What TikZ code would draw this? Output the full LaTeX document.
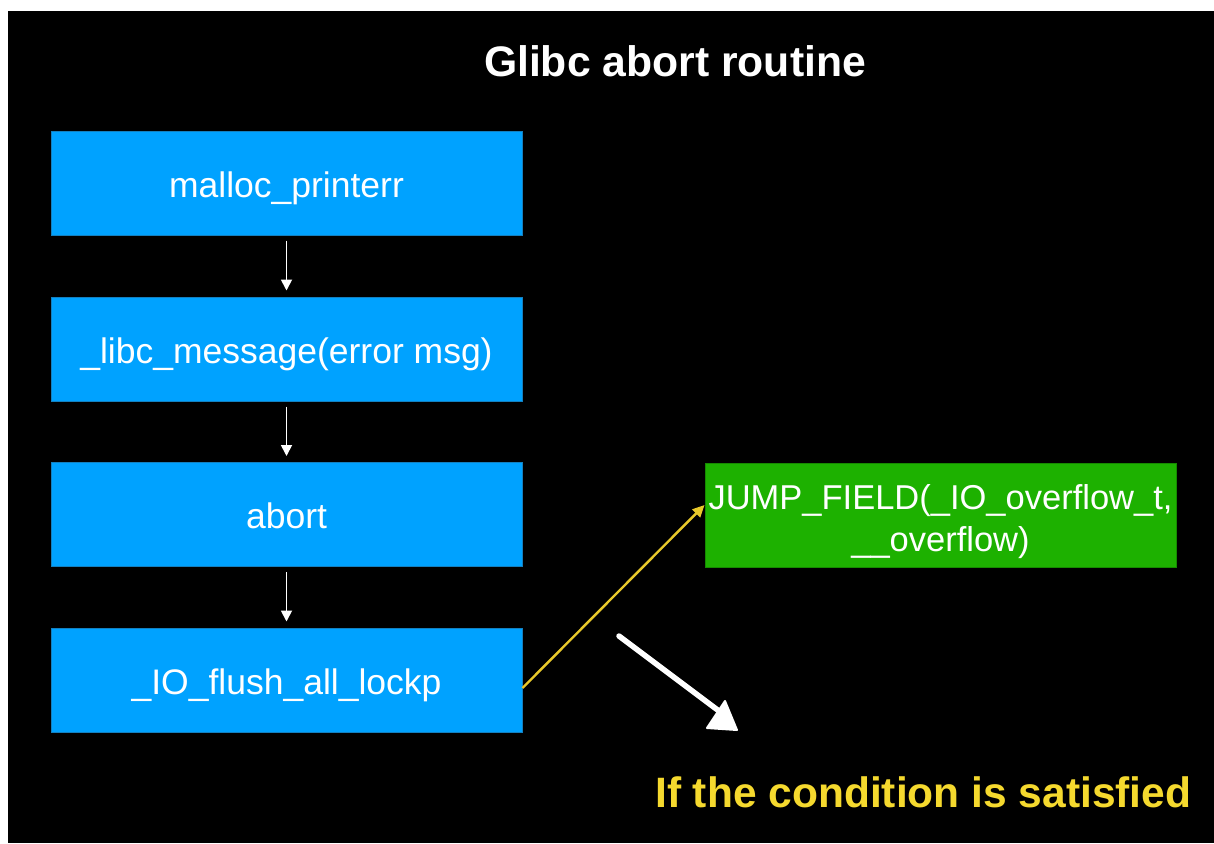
\documentclass[tikz,border=0pt]{standalone}
\usepackage{fontspec}
\setmainfont{Liberation Sans}
\usetikzlibrary{arrows.meta}
\definecolor{boxblue}{HTML}{00A2FF}
\definecolor{boxblueline}{HTML}{1380C0}
\definecolor{boxgreen}{HTML}{1DB100}
\definecolor{boxgreenline}{HTML}{168A00}
\definecolor{condyellow}{HTML}{F5D92E}
\definecolor{arrowyellow}{HTML}{E8C82A}
\tikzset{
  bluebox/.style={draw=boxblueline, line width=1pt, fill=boxblue, text=white,
    minimum width=471pt, minimum height=104pt, inner sep=0pt,
    text height=30pt, text depth=2pt,
    font=\fontsize{35.5}{42}\selectfont},
  greenbox/.style={draw=boxgreenline, line width=1pt, fill=boxgreen, text=white,
    minimum width=471pt, minimum height=104pt, inner sep=0pt,
    text height=0pt, text depth=12pt,
    font=\fontsize{34.5}{42}\selectfont},
  flowarrow/.style={draw=white, line width=1.8pt, -{Triangle[length=11pt,width=11pt]}},
  yellowarrow/.style={draw=arrowyellow, line width=2.4pt, -{Triangle[length=12pt,width=11pt]}},
}
\begin{document}
\begin{tikzpicture}[x=1pt,y=-1pt]
\useasboundingbox (0,0) rectangle (1214,843);
\fill[white] (0,0) rectangle (1214,843);
\fill[black] (8,11) rectangle (1214,843);

\node[text=white, font=\fontsize{42.7}{48}\bfseries\selectfont, anchor=base] (title) at (675,77) {Glibc abort routine};

\node[bluebox] (b1) at (286.5,183) {malloc\_printerr};
\node[bluebox] (b2) at (286.5,349) {\_libc\_message(error msg)};
\node[bluebox] (b3) at (286.5,514.5) {abort};
\node[bluebox] (b4) at (286.5,680) {\_IO\_flush\_all\_lockp};

\node[greenbox] (g) at (940.5,515) {\begin{tabular}[t]{@{}c@{}}JUMP\_FIELD(\_IO\_overflow\_t,\\\_\_overflow)\end{tabular}};

\draw[flowarrow] ([yshift=-5pt]b1.south) -- ([yshift=6pt]b2.north);
\draw[flowarrow] ([yshift=-5pt]b2.south) -- ([yshift=6pt]b3.north);
\draw[flowarrow] ([yshift=-5pt]b3.south) -- ([yshift=6pt]b4.north);

\draw[yellowarrow] ([yshift=-8pt]b4.east) -- ([yshift=10pt]g.west);

% hand-drawn white arrow
\coordinate (ha) at (619,636);
\coordinate (hb) at (719,711);
\draw[white, line width=5.5pt, line cap=round] (ha) -- (hb);
\fill[white, draw=white, line width=2pt, line join=round] (725,701) -- (707,728) -- (737,730) -- cycle;

\node[text=condyellow, font=\fontsize{42.5}{48}\bfseries\selectfont, anchor=base west, inner sep=0pt] (cond) at (655,807) {If the condition is satisfied};
\end{tikzpicture}
\end{document}
